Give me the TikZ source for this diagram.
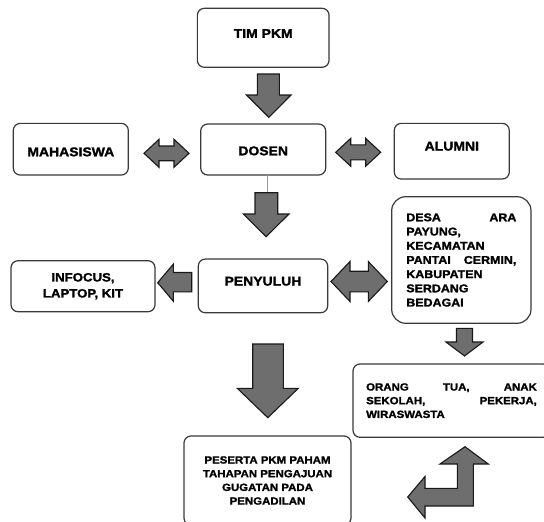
\documentclass[tikz,border=0pt]{standalone}
\usepackage{fontspec}
\setmainfont{Liberation Sans}[FakeStretch=1.1, BoldFeatures={FakeBold=1.6}]
\usepackage{tikz}

\definecolor{boxline}{HTML}{3A3A3A}
\definecolor{arrowfill}{HTML}{6E6E6E}

\tikzset{
  box/.style={draw=boxline, line width=1.2pt, rounded corners=7pt, fill=white,
    inner sep=0pt, font=\bfseries\fontsize{12.7}{15}\selectfont,
    text height=9.1pt, text depth=0pt},
  lift/.style={text depth=#1},
  sink/.style={text height=#1},
  smallbox/.style={box, text height=, text depth=},
  blk/.style={draw=black!90, line width=1.1pt, fill=arrowfill, line join=miter},
  stub/.style={draw=black!40, line width=0.7pt}
}

\begin{document}
\begin{tikzpicture}[x=1pt, y=-1pt]
  \fill[white] (0,0) rectangle (544,522);
  \useasboundingbox (0,0) rectangle (544,522);

  \node[box, lift=9pt, minimum width=131.7pt, minimum height=59pt] (tim) at (263.2,37.8) {TIM PKM};
  \node[box, sink=11.5pt, minimum width=125pt, minimum height=51pt] (dosen) at (263.2,149.5) {DOSEN};
  \node[box, sink=14.1pt, minimum width=115pt, minimum height=51.7pt] (maha) at (70.8,149.2) {MAHASISWA};
  \node[box, lift=10.4pt, minimum width=115pt, minimum height=55.7pt] (alumni) at (451.8,151.2) {ALUMNI};
  \node[box, lift=9.8pt, minimum width=129.4pt, minimum height=53.7pt] (penyuluh) at (263,285.9) {PENYULUH};
  \node[smallbox, align=center, minimum width=144pt, minimum height=51pt,
    font=\bfseries\fontsize{12}{16}\selectfont] (infocus) at (83,286.2) {INFOCUS,\\LAPTOP, KIT};
  \node[smallbox, rounded corners=14pt, align=left, text width=110pt, minimum width=139.3pt,
    minimum height=126.6pt, font=\bfseries\fontsize{11.3}{14.2}\selectfont] (desa) at (461.35,260)
    {DESA\hfill ARA\\PAYUNG,\\KECAMATAN\\PANTAI\hfill CERMIN,\\KABUPATEN\\SERDANG\\BEDAGAI};
  \node[smallbox, align=left, text width=170.7pt, minimum width=197pt, minimum height=73.3pt,
    font=\bfseries\fontsize{10.4}{13.7}\selectfont] (orang) at (451.5,400.65)
    {ORANG\hfill TUA,\hfill ANAK\\SEKOLAH,\hfill PEKERJA,\\WIRASWASTA};
  \node[smallbox, align=center, minimum width=167pt, minimum height=89pt,
    font=\bfseries\fontsize{10.4}{13.7}\selectfont] (peserta) at (267.5,480.5)
    {PESERTA PKM PAHAM\\TAHAPAN PENGAJUAN\\GUGATAN PADA\\PENGADILAN};

  \draw[stub] (267.7,175) -- (267.7,192.7);

  % tim -> dosen -> penyuluh -> peserta
  \draw[blk] (257.3,74) -- (279.3,74) -- (279.3,95) -- (291,95) -- (268.8,117.3) -- (246.5,95) -- (257.3,95) -- cycle;
  \draw[blk] (255,192.7) -- (277.7,192.7) -- (277.7,214) -- (289,214) -- (266.2,236.7) -- (243.3,214) -- (255,214) -- cycle;
  \draw[blk] (252.7,344) -- (283.3,344) -- (283.3,388.3) -- (298.3,388.3) -- (267.8,417.7) -- (237.3,388.3) -- (252.7,388.3) -- cycle;

  % dosen <-> mahasiswa, alumni
  \draw[blk] (144,153.3) -- (159,139.3) -- (159,146) -- (174,146) -- (174,139.3) -- (189,153.3)
    -- (174,167.3) -- (174,160.7) -- (159,160.7) -- (159,167.3) -- cycle;
  \draw[blk] (335.7,152.3) -- (350.7,138.4) -- (350.7,144.8) -- (365.7,144.8) -- (365.7,138.4) -- (380.7,152.3)
    -- (365.7,166.2) -- (365.7,159.8) -- (350.7,159.8) -- (350.7,166.2) -- cycle;

  % penyuluh -> infocus, penyuluh <-> desa
  \draw[blk] (157.7,282.7) -- (173.3,264.2) -- (173.3,272.5) -- (191.7,272.5) -- (191.7,291.8)
    -- (173.3,291.8) -- (173.3,301.2) -- cycle;
  \draw[blk] (331,281.5) -- (350,261.5) -- (350,271.2) -- (368.3,271.2) -- (368.3,261.5) -- (387.3,281.5)
    -- (368.3,301.5) -- (368.3,291.8) -- (350,291.8) -- (350,301.5) -- cycle;

  % desa -> orang, orang <-> peserta
  \draw[blk] (456.5,328.3) -- (472.5,328.3) -- (472.5,342) -- (483,342) -- (464.5,356) -- (446,342) -- (456.5,342) -- cycle;
  \draw[blk] (465,446.7) -- (488.3,464) -- (473.3,464) -- (473.3,506) -- (425,506) -- (425,518) -- (407.7,497)
    -- (425,476.5) -- (425,488.3) -- (457.3,488.3) -- (457.3,464) -- (440,464) -- cycle;
\end{tikzpicture}
\end{document}
